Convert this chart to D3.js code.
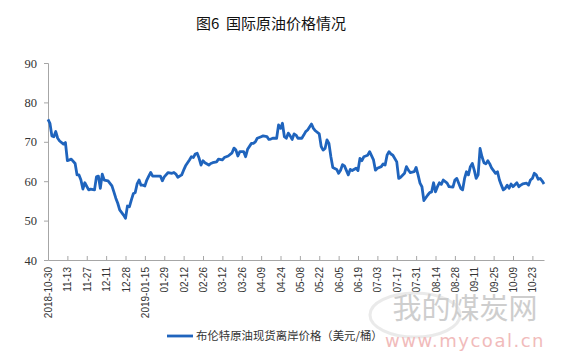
<!DOCTYPE html>
<html><head><meta charset="utf-8">
<script src="https://cdn.jsdelivr.net/npm/d3@7"></script>
<style>body{margin:0;background:#fff}svg{display:block}</style>
</head><body>
<svg id="c" width="561" height="357"></svg>
<script>
// trading-day index of each observation and Brent price (USD/bbl)
const dayIndex = [0,1,2,3,4,5,6,8,9,10,12,14,15,16,17,18,19,21,22,24,25,26,27,28,29,31,33,34,35,36,37,39,40,41,42,43,44,45,46,47,48,49,50,51,52,53,54,56,58,59,60,62,64,65,66,67,69,70,71,73,74,75,76,77,78,79,80,81,83,84,85,87,88,90,91,93,95,96,97,98,99,101,102,103,105,106,107,108,110,111,113,114,115,116,118,119,120,121,122,123,124,125,126,127,128,129,131,132,133,134,136,137,138,140,141,142,143,144,145,146,147,149,150,151,152,153,155,156,157,159,160,161,162,163,165,166,168,169,170,172,173,174,175,176,177,178,180,181,182,184,185,186,187,189,190,191,192,193,194,196,197,198,199,200,201,202,203,204,206,207,209,210,211,213,214,215,216,217,218,219,220,221,222,223,224,225,226,227,228,229,231,232,233,234,235,236,237,238,239,240,242,243,244,245,247,248,249,250,251,252,253,254,255,256];
const brent = [75.7,74.7,71.5,71.3,72.6,70.9,70.2,69.4,69.8,65.2,65.6,64.5,61.6,61.6,60.3,58.0,59.6,57.8,58.0,57.8,61.1,61.3,58.2,61.8,60.3,60.1,58.8,57.3,55.7,54.4,52.7,51.4,50.6,53.7,53.5,55.2,56.8,57.1,59.3,60.3,59.0,59.0,58.8,60.3,61.3,62.2,61.3,61.3,61.3,60.1,61.1,62.2,62.0,62.2,61.8,61.0,61.6,62.8,63.9,65.4,66.2,66.0,66.9,67.1,65.8,64.1,65.2,64.7,64.1,64.5,64.7,64.9,65.6,65.4,66.0,66.4,67.2,68.4,67.9,66.4,67.5,67.5,66.2,68.1,69.6,69.6,70.0,70.9,71.3,71.5,71.3,70.6,70.7,70.9,70.9,74.3,73.4,74.7,71.3,70.9,72.2,71.5,70.6,72.0,71.7,70.9,70.9,71.7,72.6,73.0,74.5,73.4,72.8,72.0,68.8,67.9,68.3,70.5,69.6,66.2,63.5,63.0,62.0,62.8,64.2,63.9,61.6,63.0,62.7,63.3,62.7,65.8,65.2,66.2,66.6,67.5,65.4,62.8,63.3,63.7,64.4,64.1,66.6,67.5,66.9,66.6,64.9,60.7,61.0,62.0,63.7,62.8,62.2,62.4,63.5,61.6,59.5,58.6,55.1,56.5,57.1,57.3,59.6,57.3,58.6,59.6,59.2,60.3,59.5,58.6,58.5,60.3,60.7,58.2,57.8,60.7,62.4,61.6,63.7,64.5,62.8,60.7,61.6,68.3,66.2,64.7,64.4,65.2,64.4,63.3,62.0,62.4,60.3,59.0,57.8,58.2,59.0,58.2,59.3,58.6,59.6,58.6,59.0,59.3,59.5,59.0,60.3,60.7,62.0,61.6,60.5,60.7,60.1,59.3];
const tickIndex = [0,10,20,30,40,50,60,70,80,90,100,110,120,130,140,150,160,170,180,190,200,210,220,230,240,250];
const tickLabels = ["2018-10-30","11-13","11-27","12-11","12-28","2019-01-15","01-29","02-12","02-26","03-12","03-26","04-09","04-24","05-08","05-22","06-05","06-19","07-03","07-17","07-31","08-14","08-28","09-11","09-25","10-09","10-23"];
const yTicks = [40,50,60,70,80,90];
const title = "图6  国际原油价格情况";
const legendLabel = "布伦特原油现货离岸价格（美元/桶）";

const svg = d3.select("#c");
const x = d3.scaleLinear().domain([0,256]).range([48,544]);
const y = d3.scaleLinear().domain([40,90]).range([260,63]);
const axisColor = "#a6a6a6";

// title
svg.append("text").attr("x",271).attr("y",29).attr("text-anchor","middle")
  .attr("font-family","'Noto Sans CJK SC'").attr("font-size",15).attr("font-weight",400)
  .attr("fill","#111").style("white-space","pre").text(title);

// y axis
const ya = svg.append("g").attr("transform","translate(48,0)")
  .call(d3.axisLeft(y).tickValues(yTicks).tickSize(4).tickPadding(7).tickFormat(d3.format("d")));
ya.select(".domain").attr("stroke",axisColor);
ya.selectAll(".tick line").attr("stroke",axisColor);
ya.selectAll("text").attr("font-family","'Liberation Serif'").attr("font-size",12.5).attr("fill","#333");

// x axis
const xa = svg.append("g").attr("transform","translate(0,260)")
  .call(d3.axisBottom(x).tickValues(tickIndex).tickSize(-4).tickSizeOuter(0).tickFormat((d,i)=>tickLabels[i]));
xa.select(".domain").attr("stroke",axisColor);
xa.selectAll(".tick line").attr("stroke",axisColor);
xa.selectAll("text").attr("font-family","'Liberation Sans'").attr("font-size",10).attr("fill","#333")
  .attr("text-anchor","end").attr("transform","rotate(-90)").attr("x",-7).attr("y",0).attr("dy","0.35em");

// watermark
const wm = svg.append("g").attr("opacity",0.9);
wm.append("ellipse").attr("cx",415).attr("cy",315).attr("rx",45).attr("ry",22)
  .attr("fill","none").attr("stroke","#d8d8d8").attr("stroke-width",3).attr("opacity",0.6);
wm.append("text").attr("x",465).attr("y",319).attr("text-anchor","middle")
  .attr("font-family","'Noto Sans CJK SC'").attr("font-size",29).attr("fill","#c9c9c9").text("我的煤炭网");
wm.append("text").attr("x",465).attr("y",347).attr("text-anchor","middle")
  .attr("font-family","'DejaVu Sans'").attr("font-size",18).attr("fill","#f0b4b4").attr("letter-spacing",1.5).text("www.mycoal.cn");

// line
const line = d3.line().x((d,i)=>x(dayIndex[i])).y(d=>y(d)).curve(d3.curveLinear);
svg.append("path").datum(brent).attr("d",line).attr("fill","none")
  .attr("stroke","#1f64bd").attr("stroke-width",2.8).attr("stroke-linejoin","round");

// legend
svg.append("line").attr("x1",167).attr("x2",193).attr("y1",336).attr("y2",336)
  .attr("stroke","#1f64bd").attr("stroke-width",2.8);
svg.append("text").attr("x",196).attr("y",340).attr("font-family","'Noto Sans CJK SC'")
  .attr("font-size",11.4).attr("fill","#333").text(legendLabel);
</script>
</body></html>
